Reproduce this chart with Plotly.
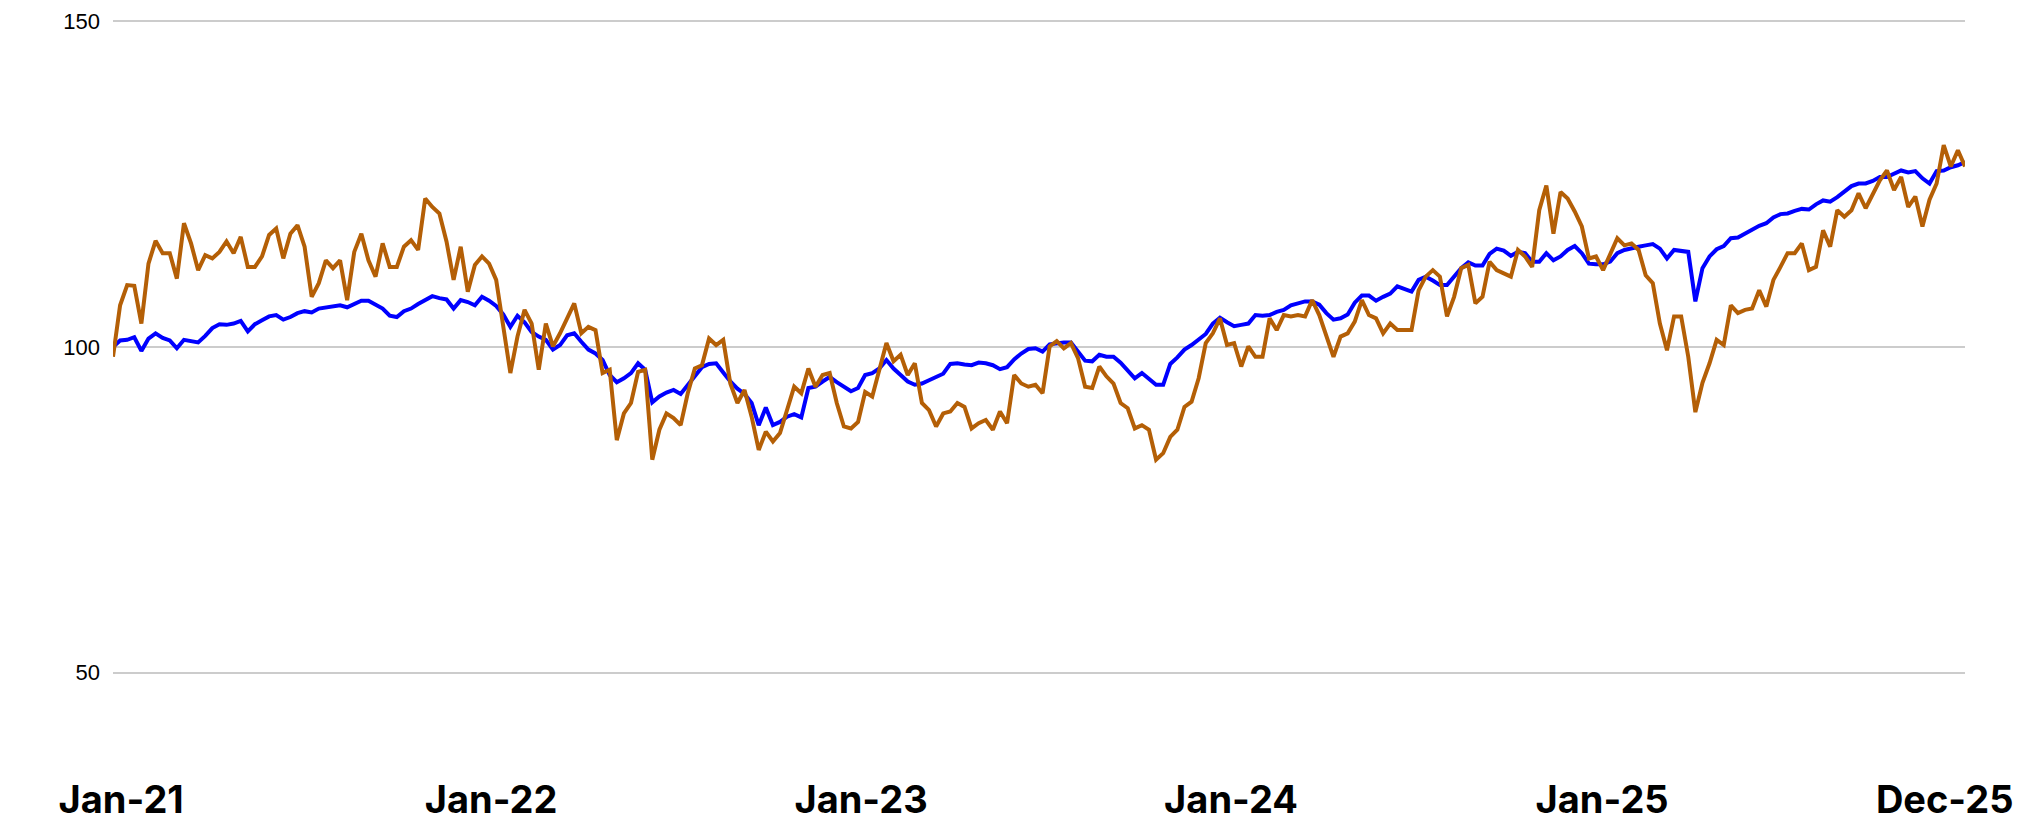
import pandas as pd
import plotly.graph_objects as go

# weekly readings, starting first week of Jan 2021
start_date = "2021-01-01"

orange_series = [
    98.5, 106.4, 109.5, 109.4, 103.6, 112.8, 116.3, 114.4, 114.4, 110.5,
    119.0, 115.9, 111.8, 114.1, 113.6, 114.6, 116.2, 114.4, 116.9, 112.3,
    112.3, 113.9, 117.2, 118.2, 113.6, 117.4, 118.7, 115.4, 107.7, 109.8,
    113.3, 112.1, 113.3, 107.2, 114.6, 117.4, 113.3, 110.8, 115.9, 112.3,
    112.3, 115.4, 116.4, 114.9, 122.8, 121.5, 120.5, 116.2, 110.3, 115.4,
    108.5, 112.6, 113.9, 112.8, 110.3, 103.6, 96.0, 101.6, 105.7, 103.6,
    96.5, 103.6, 100.1, 102.1, 104.4, 106.7, 102.1, 103.1, 102.6, 96.0,
    96.5, 85.7, 89.8, 91.4, 96.2, 96.5, 82.7, 87.3, 89.8, 89.1,
    88.0, 92.9, 96.7, 97.2, 101.3, 100.3, 101.1, 94.4, 91.4, 93.4,
    89.3, 84.2, 87.0, 85.5, 86.8, 90.3, 93.9, 92.9, 96.7, 93.9,
    95.7, 96.0, 91.4, 87.8, 87.5, 88.5, 93.1, 92.4, 96.7, 100.6,
    97.8, 98.8, 95.7, 97.5, 91.4, 90.3, 87.8, 89.8, 90.1, 91.4,
    90.8, 87.5, 88.3, 88.8, 87.3, 90.1, 88.3, 95.7, 94.4, 93.9,
    94.2, 92.9, 100.1, 100.9, 99.8, 100.6, 98.3, 93.9, 93.7, 97.0,
    95.5, 94.4, 91.4, 90.6, 87.5, 88.0, 87.3, 82.7, 83.7, 86.2,
    87.3, 90.8, 91.6, 95.2, 100.6, 102.1, 104.4, 100.3, 100.6, 97.0,
    100.1, 98.5, 98.5, 104.4, 102.6, 104.9, 104.7, 104.9, 104.7, 107.2,
    104.9, 101.6, 98.5, 101.6, 102.1, 103.9, 107.2, 104.9, 104.4, 102.1,
    103.6, 102.6, 102.6, 102.6, 108.7, 110.8, 111.8, 110.8, 104.7, 107.7,
    112.1, 112.6, 106.7, 107.7, 113.1, 111.8, 111.3, 110.8, 114.9, 113.9,
    112.3, 121.0, 124.8, 117.4, 123.8, 122.8, 120.8, 118.5, 113.6, 113.9,
    111.8, 114.4, 116.7, 115.6, 115.9, 114.9, 111.0, 109.8, 103.6, 99.5,
    104.7, 104.7, 98.5, 90.0, 94.5, 97.5, 101.1, 100.3, 106.4, 105.2,
    105.7, 105.9, 108.7, 106.2, 110.3, 112.3, 114.4, 114.4, 115.9, 111.8,
    112.3, 117.9, 115.4, 121.0, 120.0, 121.0, 123.6, 121.3, 123.6, 125.6,
    127.1, 124.1, 126.1, 121.5, 123.1, 118.5, 122.6, 125.1, 131.0, 127.7,
    130.2, 127.7,
]

blue_series = [
    100.0, 101.0, 101.1, 101.5, 99.4, 101.3, 102.1, 101.4, 101.0, 99.8,
    101.1, 100.9, 100.7, 101.7, 102.9, 103.5, 103.4, 103.6, 104.0, 102.4,
    103.5, 104.1, 104.7, 104.9, 104.2, 104.6, 105.2, 105.5, 105.3, 105.9,
    106.1, 106.3, 106.4, 106.1, 106.6, 107.1, 107.1, 106.5, 105.9, 104.8,
    104.6, 105.5, 105.9, 106.6, 107.2, 107.8, 107.5, 107.3, 105.9, 107.2,
    106.9, 106.4, 107.7, 107.1, 106.3, 105.0, 103.1, 104.8, 103.8, 102.3,
    101.6, 101.1, 99.6, 100.3, 101.8, 102.1, 100.8, 99.6, 99.0, 98.0,
    95.7, 94.6, 95.2, 96.0, 97.5, 96.5, 91.5, 92.4, 93.0, 93.4,
    92.8, 94.2, 95.7, 96.9, 97.4, 97.5, 96.1, 94.7, 93.6, 92.8,
    91.4, 88.0, 90.7, 88.0, 88.5, 89.3, 89.7, 89.2, 93.7, 93.9,
    94.7, 95.4, 94.6, 93.9, 93.2, 93.7, 95.7, 96.0, 96.7, 98.0,
    96.7, 95.7, 94.7, 94.2, 94.4, 94.9, 95.4, 95.9, 97.4, 97.5,
    97.3, 97.2, 97.6, 97.5, 97.2, 96.6, 96.9, 98.1, 99.0, 99.7,
    99.8, 99.3, 100.4, 100.6, 100.7, 100.7, 99.3, 97.9, 97.8, 98.8,
    98.5, 98.5, 97.6, 96.3, 95.2, 96.0, 95.0, 94.2, 94.2, 97.4,
    98.4, 99.6, 100.3, 101.1, 102.0, 103.6, 104.5, 103.8, 103.2, 103.4,
    103.6, 104.9, 104.8, 104.9, 105.4, 105.7, 106.4, 106.7, 107.0, 107.0,
    106.5, 105.2, 104.2, 104.4, 105.0, 106.8, 107.9, 107.9, 107.1, 107.7,
    108.2, 109.3, 108.9, 108.5, 110.3, 110.8, 110.2, 109.5, 109.5, 110.8,
    112.1, 113.0, 112.5, 112.5, 114.3, 115.1, 114.8, 114.0, 114.6, 114.4,
    113.1, 113.1, 114.4, 113.3, 113.9, 114.9, 115.5, 114.4, 112.8, 112.7,
    112.7, 113.1, 114.4, 114.9, 115.2, 115.4, 115.6, 115.8, 115.1, 113.6,
    114.9, 114.8, 114.6, 107.0, 112.1, 113.9, 115.0, 115.5, 116.7, 116.8,
    117.4, 118.1, 118.6, 119.0, 119.9, 120.4, 120.5, 120.9, 121.2, 121.1,
    121.9, 122.5, 122.3, 123.0, 123.9, 124.7, 125.1, 125.1, 125.5, 126.1,
    126.1, 126.6, 127.1, 126.8, 127.0, 125.9, 125.1, 127.0, 127.1, 127.6,
    127.9, 128.4,
]

tick_dates = ["2021-01-09", "2022-01-09", "2023-01-09", "2024-01-09", "2025-01-09", "2025-12-13"]
tick_labels = ["Jan-21", "Jan-22", "Jan-23", "Jan-24", "Jan-25", "Dec-25"]
y_ticks = [50, 100, 150]

dates = pd.date_range(start_date, periods=len(blue_series), freq="7D")

fig = go.Figure()
fig.add_trace(go.Scatter(x=dates, y=blue_series, mode="lines",
                         line=dict(color="#0000ff", width=4)))
fig.add_trace(go.Scatter(x=dates, y=orange_series, mode="lines",
                         line=dict(color="#b45f06", width=4)))

fig.update_layout(
    width=2029, height=817,
    margin=dict(l=113, r=64, t=20, b=143),
    plot_bgcolor="white", paper_bgcolor="white",
    showlegend=False,
)
fig.update_xaxes(
    range=[dates[0], dates[-1]], automargin=False,
    tickvals=pd.to_datetime(tick_dates), ticktext=tick_labels,
    showgrid=False, zeroline=False, showline=False, ticks="",
    tickfont=dict(family="Inter", size=38, color="#000000", weight=700),
    ticklabelstandoff=100,
)
fig.update_yaxes(
    range=[49.8, 150.2], tickvals=y_ticks, automargin=False,
    showgrid=True, gridcolor="#cccccc", gridwidth=2,
    zeroline=False, showline=False, ticks="",
    tickfont=dict(family="Liberation Sans, Arial", size=22, color="#000000"),
    ticklabelstandoff=12,
)

# page body has a default 8px margin; drop it so the figure sits at 0,0
fig.write_html("out.html", config={"displayModeBar": False},
               post_script="document.body.style.margin='0';")
